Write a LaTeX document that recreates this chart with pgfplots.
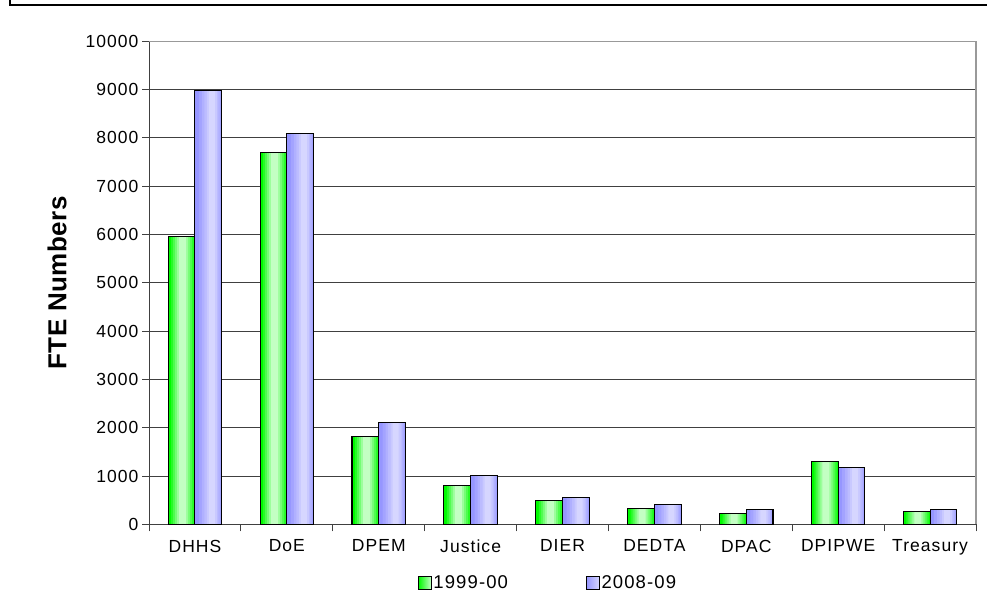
\documentclass[border=0pt]{standalone}
\usepackage{fontspec}
\setmainfont{Liberation Sans}[LetterSpace=6]
\newfontfamily\ylabfont{Liberation Sans}[LetterSpace=2]
\usepackage{pgfplots}
\usepackage{pgfplotstable}
\pgfplotsset{compat=1.18}
\definecolor{gedge}{RGB}{0,250,0}
\definecolor{gmid}{RGB}{195,255,195}
\definecolor{ledge}{RGB}{150,150,255}
\definecolor{lmid}{RGB}{214,214,255}
\pgfplotstableread{
x y
0 5950
1 7700
2 1810
3 800
4 490
5 330
6 215
7 1300
8 270
}\tblA
\pgfplotstableread{
x y
0 8985
1 8100
2 2105
3 1015
4 550
5 415
6 310
7 1180
8 310
}\tblB
\begin{document}
\begin{tikzpicture}[x=1pt,y=1pt]
\path[use as bounding box] (0,0) rectangle (987,602);
\draw[line width=2pt] (10,603) -- (10,596.5) -- (988,596.5);
\begin{axis}[
  at={(149pt,77.7pt)}, anchor=south west,
  scale only axis, width=827pt, height=483pt,
  xmin=-0.5, xmax=8.5, ymin=0, ymax=10000,
  xtick={-0.5,0.5,1.5,2.5,3.5,4.5,5.5,6.5,7.5,8.5},
  xticklabels={},
  extra x ticks={0,1,2,3,4,5,6,7,8},
  extra x tick labels={DHHS,DoE,DPEM,Justice,DIER,DEDTA,DPAC,DPIPWE,Treasury},
  extra x tick style={major tick length=0pt},
  ytick={0,1000,...,10000},
  scaled y ticks=false,
  tick align=outside,
  major tick length=7pt,
  tick style={black!75, line width=0.8pt},
  axis x line*=bottom, axis y line*=left,
  axis line style={black!75, line width=1pt},
  ymajorgrids, grid style={black!75, line width=0.8pt},
  /pgf/number format/assume math mode=true,
  /pgf/number format/1000 sep={},
  tick label style={font=\fontsize{17.5}{20}\selectfont},
  xticklabel style={yshift=-12pt},
  ylabel={FTE Numbers},
  ylabel style={font=\fontsize{26}{30}\selectfont\bfseries\ylabfont, at={(axis description cs:-0.1112,0.5)}, anchor=center, rotate=0},
  legend style={at={(axis description cs:0.4825,-0.1215)}, anchor=center, draw=none, fill=none,
    legend columns=2, font=\fontsize{18.5}{20}\selectfont,
    /tikz/every even column/.append style={column sep=76pt}},
  clip=false,
  every axis plot/.append style={ybar, draw=none},
]
% 1999-00 (green) layered gradient
\addplot[fill=gedge, bar width=26.7pt, bar shift=-13.35pt, forget plot] table[x=x,y=y]{\tblA};
\addplot[fill=gmid!20!gedge, bar width=23pt, bar shift=-12.2pt, forget plot] table[x=x,y=y]{\tblA};
\addplot[fill=gmid!40!gedge, bar width=19pt, bar shift=-12.2pt, forget plot] table[x=x,y=y]{\tblA};
\addplot[fill=gmid!60!gedge, bar width=15pt, bar shift=-12.2pt, forget plot] table[x=x,y=y]{\tblA};
\addplot[fill=gmid!80!gedge, bar width=11pt, bar shift=-12.2pt, forget plot] table[x=x,y=y]{\tblA};
\addplot[fill=gmid, bar width=7pt, bar shift=-12.2pt, forget plot] table[x=x,y=y]{\tblA};
% 2008-09 (lavender) layered gradient
\addplot[fill=ledge, bar width=26.7pt, bar shift=13.35pt, forget plot] table[x=x,y=y]{\tblB};
\addplot[fill=lmid!20!ledge, bar width=22pt, bar shift=15pt, forget plot] table[x=x,y=y]{\tblB};
\addplot[fill=lmid!40!ledge, bar width=18pt, bar shift=16pt, forget plot] table[x=x,y=y]{\tblB};
\addplot[fill=lmid!60!ledge, bar width=14pt, bar shift=16.5pt, forget plot] table[x=x,y=y]{\tblB};
\addplot[fill=lmid!80!ledge, bar width=10pt, bar shift=17pt, forget plot] table[x=x,y=y]{\tblB};
\addplot[fill=lmid, bar width=6pt, bar shift=17pt, forget plot] table[x=x,y=y]{\tblB};
% outlines + legend entries
\addplot[draw=black, line width=1.1pt, fill=none, bar width=26.7pt, bar shift=-13.35pt,
  legend image code/.code={\draw[black, line width=0.8pt, left color=gedge, right color=gmid] (0pt,-6.3pt) rectangle (12.7pt,6.3pt);}]
  table[x=x,y=y]{\tblA};
\addplot[draw=black, line width=1.1pt, fill=none, bar width=26.7pt, bar shift=13.35pt,
  legend image code/.code={\draw[black, line width=0.8pt, left color=ledge, right color=lmid] (0pt,-6.3pt) rectangle (12.7pt,6.3pt);}]
  table[x=x,y=y]{\tblB};
\legend{1999-00,2008-09}
\draw[black!40, line width=1.2pt] (rel axis cs:0,1) -- (rel axis cs:1,1) -- (rel axis cs:1,0);
\end{axis}
\end{tikzpicture}
\end{document}
